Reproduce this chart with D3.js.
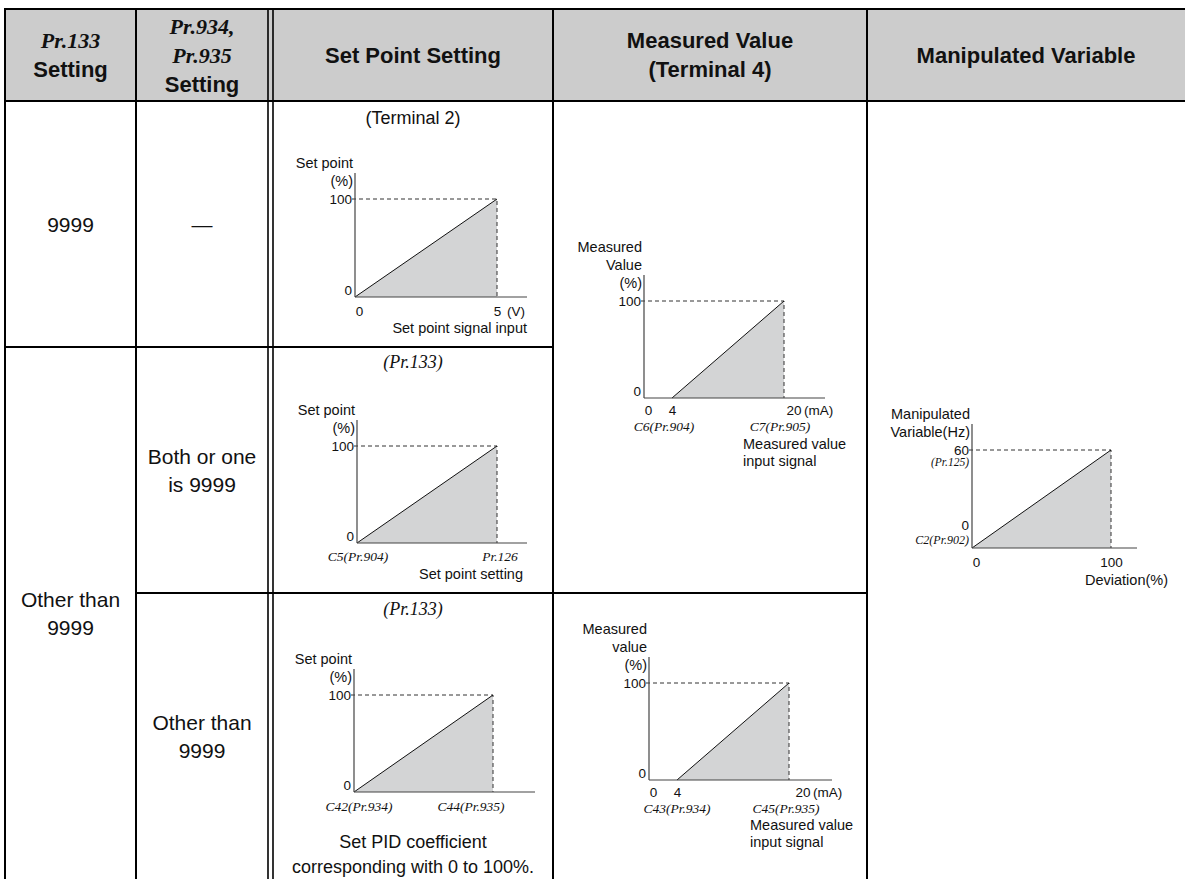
<!DOCTYPE html>
<html>
<head>
<meta charset="utf-8">
<script src="https://cdn.jsdelivr.net/npm/d3@7"></script>
<style>
  body { margin: 0; background: #fff; }
  svg { display: block; }
</style>
</head>
<body>
<svg id="chart" width="1185" height="879"></svg>
<script>
// **** Data
const headerLines = [
  [["Pr.133", "param"], ["Setting", "bold"]],
  [["Pr.934,", "param"], ["Pr.935", "param"], ["Setting", "bold"]],
  [["Set Point Setting", "bold"]],
  [["Measured Value", "bold"], ["(Terminal 4)", "bold"]],
  [["Manipulated Variable", "bold"]]
];
const pr133Settings = [["9999"], ["Other than", "9999"]];
const pr934Settings = [["\u2014"], ["Both or one", "is 9999"], ["Other than", "9999"]];

// set point: terminal 2 voltage (V) -> set point (%)
const setPointVolts = [0, 5];
const setPointPct = [0, 100];
// set point from Pr.133 setting (%) -> set point (%)
const setPointSetting = [0, 100];
// measured value: terminal 4 current (mA) -> measured value (%)
const measuredMA = [4, 20];
const measuredPct = [0, 100];
// manipulated variable: deviation (%) -> output frequency (Hz)
const deviationPct = [0, 100];
const manipulatedHz = [0, 60];

// **** Layout
const svg = d3.select("#chart");
const colX = [5, 136, 268, 273, 553, 867, 1185];
const rowY = [9, 101, 347, 593, 879];
const sans = "'Liberation Sans', Arial, sans-serif";
const serif = "'Liberation Serif', 'Times New Roman', serif";

function text(g, x, y, str, o = {}) {
  return g.append("text")
    .attr("x", x).attr("y", y)
    .attr("dominant-baseline", "central")
    .attr("text-anchor", o.anchor || "middle")
    .attr("font-family", o.serif ? serif : sans)
    .attr("font-style", o.serif ? "italic" : null)
    .attr("font-weight", o.bold ? "bold" : null)
    .attr("font-size", o.size || 14.5)
    .attr("fill", "#111")
    .text(str);
}

// **** Header
svg.append("rect")
  .attr("x", colX[0]).attr("y", rowY[0])
  .attr("width", 1185 - colX[0]).attr("height", rowY[1] - rowY[0])
  .attr("fill", "#cccccc");

const headerCenters = [
  (colX[0] + colX[1]) / 2, (colX[1] + colX[2]) / 2, (colX[3] + colX[4]) / 2,
  (colX[4] + colX[5]) / 2, (colX[5] + 1185) / 2
];
headerLines.forEach((lines, i) => {
  const mid = (rowY[0] + rowY[1]) / 2;
  lines.forEach((l, j) => {
    const y = mid + (j - (lines.length - 1) / 2) * 29;
    text(svg, headerCenters[i], y, l[0], { bold: true, serif: l[1] === "param", size: 22 });
  });
});

// **** Row labels
function cellLines(cx, top, bottom, lines) {
  const mid = (top + bottom) / 2;
  lines.forEach((l, j) => {
    text(svg, cx, mid + (j - (lines.length - 1) / 2) * 28, l, { size: 21 });
  });
}
cellLines(headerCenters[0], rowY[1], rowY[2], pr133Settings[0]);
cellLines(headerCenters[0], rowY[2], rowY[4], pr133Settings[1]);
pr934Settings.forEach((lines, i) => cellLines(headerCenters[1], rowY[i + 1], rowY[i + 2], lines));

// **** Panels
function drawPanel(p) {
  const g = svg.append("g");
  const x = d3.scaleLinear().domain(p.xDomain).range([p.left, p.left + p.width]);
  const y = d3.scaleLinear().domain(p.yDomain).range([p.bottom, p.bottom - p.height]);
  const pts = p.xs.map((v, i) => [v, p.ys[i]]);
  const xMax = p.xs[p.xs.length - 1];
  const yMax = p.ys[p.ys.length - 1];
  const yMin = p.yDomain[0];
  const xMin = p.xDomain[0];

  g.append("path")
    .attr("d", d3.area().x(d => x(d[0])).y0(y(yMin)).y1(d => y(d[1]))(pts))
    .attr("fill", "#d3d4d5");
  g.append("path")
    .attr("d", d3.line()([[x(xMin) - 3, y(yMax)], [x(xMax), y(yMax)], [x(xMax), y(yMin)]]))
    .attr("fill", "none").attr("stroke", "#333").attr("stroke-width", 1)
    .attr("stroke-dasharray", "4,3");
  g.append("path")
    .attr("d", d3.line().x(d => x(d[0])).y(d => y(d[1]))(pts))
    .attr("fill", "none").attr("stroke", "#111").attr("stroke-width", 1);
  // axis lines
  g.append("line")
    .attr("x1", x(xMin)).attr("x2", x(xMin))
    .attr("y1", y(yMin)).attr("y2", y(yMax) - 26)
    .attr("stroke", "#444").attr("stroke-width", 1.2);
  g.append("line")
    .attr("x1", x(xMin)).attr("x2", x(xMax) + p.ext)
    .attr("y1", y(yMin)).attr("y2", y(yMin))
    .attr("stroke", "#444").attr("stroke-width", 1.2);

  // y tick labels
  const ya = g.append("g").attr("transform", `translate(${x(xMin)},0)`)
    .call(d3.axisLeft(y).tickValues([yMin, yMax]).tickFormat(d3.format("d")).tickSize(0).tickPadding(3));
  ya.select(".domain").remove();
  ya.selectAll("text")
    .attr("dy", null).attr("dominant-baseline", "central")
    .attr("font-family", sans).attr("font-size", 13.5).attr("fill", "#111")
    .attr("transform", d => d === yMin ? `translate(0,${p.zeroLift || -7})` : null);

  // y title stacked above the top tick
  p.yTitle.forEach((t, i) => {
    text(g, x(xMin) - 2, y(yMax) - 18 * (p.yTitle.length - i), t, { anchor: "end" });
  });

  // x tick labels
  if (p.xTicks) {
    const xa = g.append("g").attr("transform", `translate(0,${y(yMin)})`)
      .call(d3.axisBottom(x).tickValues(p.xTicks).tickFormat(d3.format("d")).tickSize(0).tickPadding(0));
    xa.select(".domain").remove();
    xa.selectAll("text")
      .attr("dy", null).attr("y", p.tickDy).attr("dominant-baseline", "central")
      .attr("font-family", sans).attr("font-size", 13.5).attr("fill", "#111")
      .attr("text-anchor", d => d === xMax && p.lastStart ? "start" : "middle")
      .attr("dx", d => d === xMin ? 4 : (d === xMax && p.lastStart ? p.lastDx : 0));
    if (p.unit) text(g, x(xMax) + p.unitDx, y(yMin) + p.tickDy, p.unit, { anchor: "start", size: 13.5 });
  }
  (p.params || []).forEach(q => {
    text(g, x(q.v) + q.dx, y(yMin) + p.paramDy, q.t, { serif: true, size: 13.5 });
  });
  (p.yParams || []).forEach(q => {
    text(g, x(xMin) - 3, y(q.v) + q.dy, q.t, { serif: true, anchor: "end", size: q.size });
  });
  (p.xTitle || []).forEach((t, i) => {
    text(g, p.titleX(x), y(yMin) + p.titleDy + i * 17, t, { anchor: p.titleAnchor });
  });
  if (p.caption) text(g, (colX[3] + colX[4]) / 2, p.captionY, p.caption, { serif: p.captionSerif, size: 18 });
  return { x, y };
}

drawPanel({
  left: 355, width: 142, bottom: 297, height: 98, ext: 30,
  xDomain: [0, 5], yDomain: [0, 100], xs: setPointVolts, ys: setPointPct,
  caption: "(Terminal 2)", captionY: 118,
  yTitle: ["Set point", "(%)"],
  xTicks: [0, 5], tickDy: 14, unit: "(V)", unitDx: 10,
  xTitle: ["Set point signal input"], titleAnchor: "end", titleX: x => x(5) + 30, titleDy: 31
});

drawPanel({
  left: 357, width: 140, bottom: 543, height: 97, ext: 30,
  xDomain: [0, 100], yDomain: [0, 100], xs: setPointSetting, ys: setPointPct,
  caption: "(Pr.133)", captionSerif: true, captionY: 362,
  yTitle: ["Set point", "(%)"],
  params: [{ v: 0, dx: 1, t: "C5(Pr.904)" }, { v: 100, dx: 3, t: "Pr.126" }], paramDy: 13,
  xTitle: ["Set point setting"], titleAnchor: "end", titleX: x => x(100) + 26, titleDy: 31
});

drawPanel({
  left: 354, width: 139, bottom: 792, height: 97, ext: 42,
  xDomain: [0, 100], yDomain: [0, 100], xs: setPointSetting, ys: setPointPct,
  caption: "(Pr.133)", captionSerif: true, captionY: 609,
  yTitle: ["Set point", "(%)"],
  params: [{ v: 0, dx: 5, t: "C42(Pr.934)" }, { v: 100, dx: -22, t: "C44(Pr.935)" }], paramDy: 14
});
text(svg, (colX[3] + colX[4]) / 2, 842, "Set PID coefficient", { size: 18 });
text(svg, (colX[3] + colX[4]) / 2, 867, "corresponding with 0 to 100%.", { size: 18 });

drawPanel({
  left: 644, width: 140, bottom: 398, height: 97, ext: 41,
  xDomain: [0, 20], yDomain: [0, 100], xs: measuredMA, ys: measuredPct,
  yTitle: ["Measured", "Value", "(%)"],
  xTicks: [0, 4, 20], tickDy: 12, lastStart: true, lastDx: 2, unit: "(mA)", unitDx: 20,
  params: [{ v: 4, dx: -8, t: "C6(Pr.904)" }, { v: 20, dx: -4, t: "C7(Pr.905)" }], paramDy: 28,
  xTitle: ["Measured value", "input signal"], titleAnchor: "start", titleX: x => x(20) - 41, titleDy: 46
});

drawPanel({
  left: 649, width: 140, bottom: 780, height: 97, ext: 43,
  xDomain: [0, 20], yDomain: [0, 100], xs: measuredMA, ys: measuredPct,
  yTitle: ["Measured", "value", "(%)"],
  xTicks: [0, 4, 20], tickDy: 12, lastStart: true, lastDx: 6, unit: "(mA)", unitDx: 24,
  params: [{ v: 4, dx: 0, t: "C43(Pr.934)" }, { v: 20, dx: -3, t: "C45(Pr.935)" }], paramDy: 28,
  xTitle: ["Measured value", "input signal"], titleAnchor: "start", titleX: x => x(20) - 39, titleDy: 45
});

drawPanel({
  left: 972, width: 139, bottom: 548, height: 98, ext: 26,
  xDomain: [0, 100], yDomain: [0, 60], xs: deviationPct, ys: manipulatedHz,
  yTitle: ["Manipulated", "Variable(Hz)"], zeroLift: -23,
  yParams: [{ v: 60, dy: 12, t: "(Pr.125)", size: 11.5 }, { v: 0, dy: -8, t: "C2(Pr.902)", size: 12 }],
  xTicks: [0, 100], tickDy: 14,
  xTitle: ["Deviation(%)"], titleAnchor: "end", titleX: x => x(100) + 57, titleDy: 32
});

// **** Grid lines
const grid = svg.append("g").attr("stroke", "#000").attr("fill", "none");
function hLine(y, x1, x2, w = 2) {
  grid.append("line").attr("x1", x1).attr("x2", x2).attr("y1", y).attr("y2", y).attr("stroke-width", w);
}
function vLine(x, y1, y2, w = 2) {
  grid.append("line").attr("x1", x).attr("x2", x).attr("y1", y1).attr("y2", y2).attr("stroke-width", w);
}
hLine(rowY[0], colX[0] - 1, 1185);
hLine(rowY[1], colX[0] - 1, 1185);
hLine(rowY[2], colX[0], colX[4]);
hLine(rowY[3], colX[1], colX[5]);
[colX[0], colX[1], colX[4], colX[5]].forEach(x => vLine(x, rowY[0], rowY[4]));
vLine(colX[2], rowY[0], rowY[4], 1.6);
vLine(colX[3], rowY[0], rowY[4], 1.6);
</script>
</body>
</html>
